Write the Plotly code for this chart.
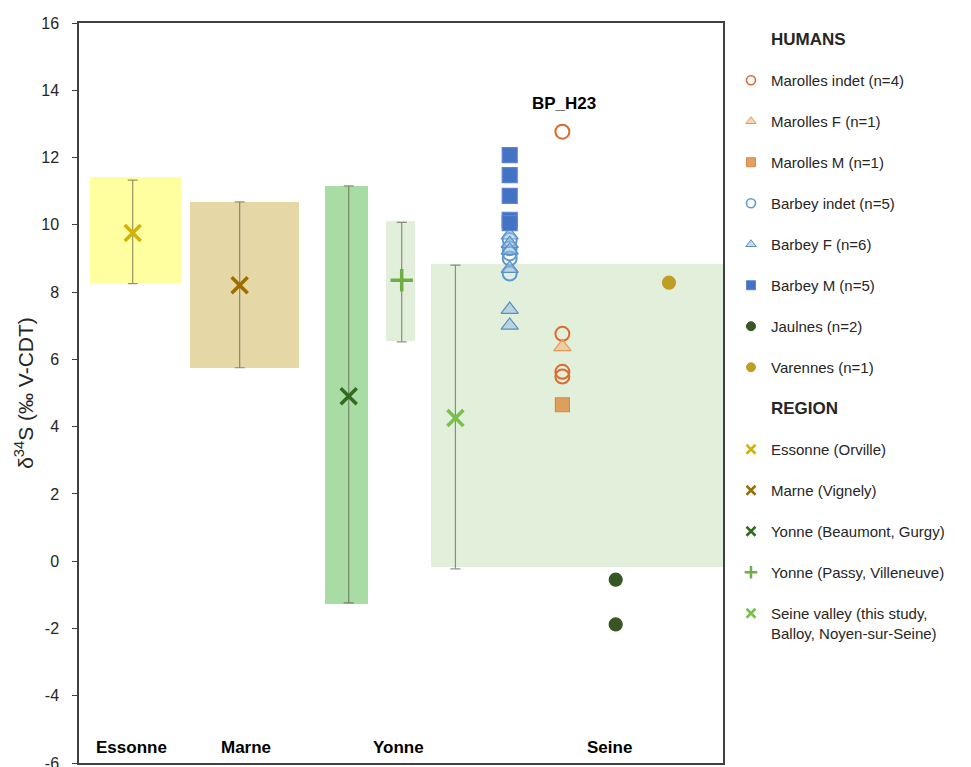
import plotly.graph_objects as go

# regional ranges (boxes) and means with error bars
regions = ["Essonne (Orville)", "Marne (Vignely)", "Yonne (Beaumont, Gurgy)",
           "Yonne (Passy, Villeneuve)", "Seine valley (this study,<br>Balloy, Noyen-sur-Seine)"]
box_x = [0.873, 2.565, 4.149, 4.995, 7.733]
box_w = [1.413, 1.692, 0.668, 0.444, 4.534]
box_low = [8.28, 5.75, -1.27, 6.55, -0.17]
box_high = [11.41, 10.68, 11.16, 10.10, 8.84]
reg_x = [0.834, 2.495, 4.188, 5.011, 5.845]
reg_mean = [9.76, 8.20, 4.90, 8.35, 4.26]
reg_min = [8.25, 5.75, -1.24, 6.52, -0.23]
reg_max = [11.33, 10.68, 11.16, 10.07, 8.80]
box_colors = ["#FFFF9F", "#E6D7A6", "#A9DCA5", "#E2EFDA", "#E2EFDA"]
reg_colors = ["#D4B106", "#9C6E00", "#2F6B21", "#70AD47", "#78BF4E"]
reg_symbols = ["x-thin", "x-thin", "x-thin", "cross-thin", "x-thin"]

# humans
x_barbey = 6.688
x_marolles = 7.506
x_jaulnes = 8.334
x_varennes = 9.161
marolles_indet = [12.77, 6.76, 5.63, 5.49]
marolles_f = [6.37]
marolles_m = [4.65]
barbey_indet = [9.55, 9.30, 9.15, 9.00, 8.55]
barbey_f = [9.69, 9.44, 9.24, 8.70, 7.48, 7.01]
barbey_m = [12.07, 11.48, 10.86, 10.15, 10.05]
jaulnes = [-0.55, -1.88]
varennes = [8.28]

site_labels = ["Essonne", "Marne", "Yonne", "Seine"]
site_x = [0.818, 2.59, 4.964, 8.24]

y_ticks = [-6, -4, -2, 0, 2, 4, 6, 8, 10, 12, 14, 16]

fig = go.Figure()

for i in range(len(regions)):
    fig.add_trace(go.Bar(
        x=[box_x[i]], y=[box_high[i] - box_low[i]], base=[box_low[i]],
        width=[box_w[i]], marker=dict(color=box_colors[i], line=dict(width=0)),
        showlegend=False, hoverinfo="skip"))

for i in range(len(regions)):
    fig.add_trace(go.Scatter(
        x=[reg_x[i]], y=[reg_mean[i]], mode="markers",
        marker=dict(symbol=reg_symbols[i], size=16, line=dict(color=reg_colors[i], width=3.5)),
        error_y=dict(type="data", symmetric=False,
                     array=[reg_max[i] - reg_mean[i]],
                     arrayminus=[reg_mean[i] - reg_min[i]],
                     color="rgba(90,90,70,0.65)", thickness=1.2, width=5),
        showlegend=False))

humans = [
    ("Marolles indet (n=4)", x_marolles, marolles_indet, "circle-open", "#DB6B2E", "rgba(0,0,0,0)", 14),
    ("Marolles F (n=1)", x_marolles, marolles_f, "triangle-up", "#E8975A", "rgba(240,180,120,0.55)", 15),
    ("Marolles M (n=1)", x_marolles, marolles_m, "square", "#D88A44", "rgba(222,150,80,0.9)", 14),
    ("Barbey indet (n=5)", x_barbey, barbey_indet, "circle-open", "#5B9BD5", "rgba(0,0,0,0)", 14),
    ("Barbey F (n=6)", x_barbey, barbey_f, "triangle-up", "#5B8FC4", "rgba(150,190,230,0.55)", 15),
    ("Barbey M (n=5)", x_barbey, barbey_m, "square", "#5A85CF", "#4472C4", 15),
    ("Jaulnes (n=2)", x_jaulnes, jaulnes, "circle", "#375623", "#375623", 13),
    ("Varennes (n=1)", x_varennes, varennes, "circle", "#C39A2E", "#BF9F22", 13),
]

for name, xv, yv, sym, lc, fc, sz in humans:
    lw = 2 if "open" in sym else 1.2
    mk = dict(symbol=sym, size=sz, color=fc if "open" not in sym else lc,
              line=dict(color=lc, width=lw))
    fig.add_trace(go.Scatter(x=[xv] * len(yv), y=yv, mode="markers",
                             marker=mk, showlegend=False))

# legend entries
def title_entry(text, grp):
    fig.add_trace(go.Scatter(
        x=[None], y=[None], mode="markers", legendgroup=grp,
        name="<span style='font-size:17px'><b>" + text + "</b></span>",
        marker=dict(color="rgba(0,0,0,0)", size=1, line=dict(width=0))))

title_entry("HUMANS", "t1")
for k, (name, xv, yv, sym, lc, fc, sz) in enumerate(humans):
    lw = 1.6 if "open" in sym else 1
    fig.add_trace(go.Scatter(
        x=[None], y=[None], mode="markers", name=name, legendgroup="h" + str(k),
        marker=dict(symbol=sym, size=9, color=lc if "open" in sym else fc,
                    line=dict(color=lc, width=lw))))

title_entry("REGION", "t2")
for i in range(len(regions)):
    fig.add_trace(go.Scatter(
        x=[None], y=[None], mode="markers", name=regions[i], legendgroup="r" + str(i),
        marker=dict(symbol=reg_symbols[i], size=9, line=dict(color=reg_colors[i], width=2.5))))

for lab, xv in zip(site_labels, site_x):
    fig.add_annotation(x=xv, y=-5.55, text="<b>" + lab + "</b>", showarrow=False,
                       font=dict(size=17, color="black"))

fig.add_annotation(x=x_marolles + 0.03, y=13.62, text="<b>BP_H23</b>", showarrow=False,
                   font=dict(size=17, color="black"))

fig.update_layout(
    width=971, height=767,
    margin=dict(l=71, r=256, t=15, b=12),
    plot_bgcolor="white", paper_bgcolor="white",
    barmode="overlay", bargap=0,
    font=dict(family="Liberation Sans, Arial, sans-serif", color="#262626"),
    legend=dict(x=1.0124, y=1.0, xanchor="left", yanchor="top",
                traceorder="grouped", tracegroupgap=18.5, valign="top",
                font=dict(size=15, color="#262626"), itemwidth=30),
)
fig.update_xaxes(range=[0, 10], showticklabels=False, ticks="", showgrid=False, automargin=False,
                 zeroline=False, showline=True, linecolor="#404040", linewidth=1.5, mirror=True)
fig.update_yaxes(range=[-6, 16], tickvals=y_ticks, ticktext=[str(v) for v in y_ticks],
                 ticks="outside", ticklen=5, tickcolor="#404040", ticklabelstandoff=10,
                 automargin=False,
                 showgrid=False, zeroline=False, showline=True, linecolor="#404040",
                 linewidth=1.5, mirror=True, tickfont=dict(size=16, color="#262626"),
                 title=dict(text="δ<sup>34</sup>S (‰ V-CDT)", font=dict(size=21, color="#262626"),
                            standoff=2))

fig.write_html("out.html")
